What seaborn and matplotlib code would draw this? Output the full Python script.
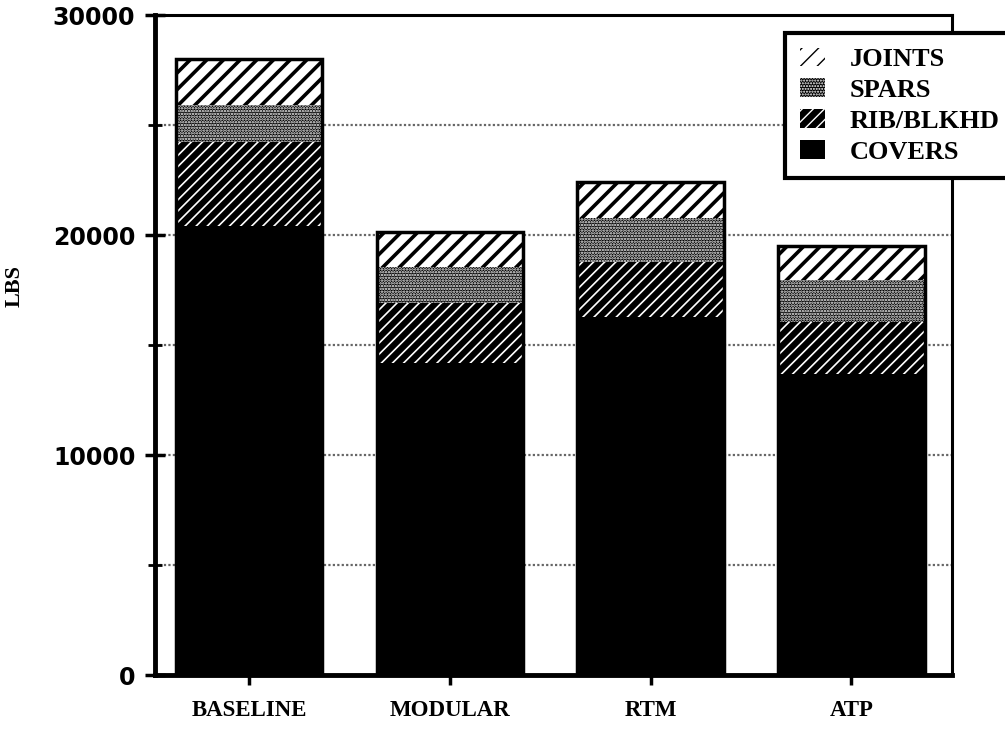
import matplotlib
matplotlib.use("Agg")
import matplotlib.pyplot as plt
from matplotlib.patches import Patch
import seaborn as sns
import pandas as pd

# values (lbs)
designs = ['BASELINE', 'MODULAR', 'RTM', 'ATP']
covers = [20400, 14200, 16300, 13700]
rib_blkhd = [3850, 2700, 2500, 2350]
spars = [1650, 1650, 2000, 1900]
joints = [2100, 1600, 1600, 1550]

df = pd.DataFrame({'design': designs, 'covers': covers, 'rib': rib_blkhd,
                   'spars': spars, 'joints': joints})
# cumulative tops, drawn from tallest down
df['c_covers'] = df['covers']
df['c_rib'] = df['c_covers'] + df['rib']
df['c_spars'] = df['c_rib'] + df['spars']
df['c_joints'] = df['c_spars'] + df['joints']

sns.set_style('white')
plt.rcParams['font.family'] = ['Liberation Serif', 'DejaVu Serif']
plt.rcParams['text.color'] = 'black'
plt.rcParams['axes.labelcolor'] = 'black'
plt.rcParams['xtick.color'] = 'black'
plt.rcParams['ytick.color'] = 'black'

fig = plt.figure(figsize=(10.05, 7.29), dpi=100)
ax = fig.add_axes([0.154, 0.074, 0.793, 0.905])

# layer styles: column, face, hatch colour, hatch, hatch width
layers = [
    ('c_joints', 'white', 'black', '//', 2.6),
    ('c_spars', 'black', 'white', '......', 1.2),
    ('c_rib', 'black', 'white', '///', 1.2),
    ('c_covers', 'black', 'black', '', 1.0),
]
for col, face, hcol, hatch, hlw in layers:
    plt.rcParams['hatch.linewidth'] = hlw
    sns.barplot(data=df, x='design', y=col, color=face, saturation=1,
                hatch=hatch, edgecolor=hcol, linewidth=0, width=0.73,
                ax=ax, zorder=2)
# outline
sns.barplot(data=df, x='design', y='c_joints', fill=False, edgecolor='black',
            linewidth=2.5, width=0.73, ax=ax, zorder=3)

ax.set_xlim(-0.47, 3.5)
ax.set_ylim(0, 30000)
ax.set_yticks([0, 10000, 20000, 30000])
ax.set_yticks([5000, 15000, 25000], minor=True)
ax.yaxis.grid(True, which='both', color='0.4', linestyle=(0, (1, 1)), linewidth=1.6, zorder=0)
ax.set_axisbelow(True)

for s in ['left', 'bottom']:
    ax.spines[s].set_linewidth(3.5)
for s in ['top', 'right']:
    ax.spines[s].set_linewidth(2.2)
for s in ax.spines.values():
    s.set_color('black')

ax.tick_params(axis='y', which='major', direction='inout', length=14, width=2.5, pad=7, left=True)
ax.tick_params(axis='y', which='minor', direction='inout', length=10, width=2, left=True)
ax.tick_params(axis='x', direction='inout', length=14, width=2.5, pad=11, bottom=True)

ax.set_xticks(range(len(designs)))
ax.set_xticklabels(designs, fontsize=16.5, fontweight='bold', family=['Liberation Serif'])
for t in ax.get_yticklabels():
    t.set_fontfamily('DejaVu Sans')
    t.set_fontweight('bold')
    t.set_fontsize(17)

ax.set_xlabel('')
ax.set_ylabel('LBS', fontsize=16, fontweight='bold', family=['Liberation Serif'])
ax.yaxis.set_label_coords(-0.163, 0.59)

# legend
handles = []
for face, hcol, hatch in [('white', 'black', '//'),
                          ('black', 'white', '......'),
                          ('black', 'white', '///'),
                          ('black', 'black', '')]:
    handles.append(Patch(facecolor=face, edgecolor=hcol, hatch=hatch, linewidth=0))
leg = ax.legend(handles, ['JOINTS', 'SPARS', 'RIB/BLKHD', 'COVERS'],
                loc='upper left', bbox_to_anchor=(785 / 1005, 1 - 33 / 729),
                bbox_transform=fig.transFigure, frameon=True, fancybox=False,
                framealpha=1, edgecolor='black',
                handlelength=0.95, handleheight=0.7, handletextpad=0.95,
                labelspacing=0.28, borderpad=0.55, borderaxespad=0,
                prop={'family': 'Liberation Serif', 'weight': 'bold', 'size': 19})
leg.get_frame().set_linewidth(3)
leg.set_zorder(5)

fig.savefig('out.png', dpi=100)
